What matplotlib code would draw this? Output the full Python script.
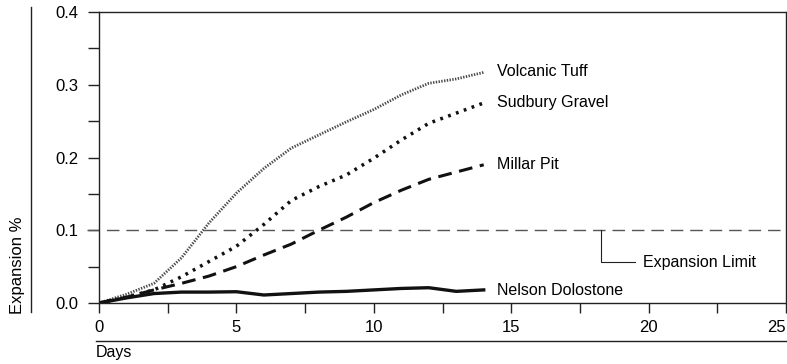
import numpy as np
import matplotlib
matplotlib.use('Agg')
import matplotlib.pyplot as plt
from matplotlib.lines import Line2D

plt.rcParams['font.family'] = ['Liberation Sans', 'DejaVu Sans']
plt.rcParams['font.size'] = 11.5

# data
days = [0, 1, 2, 3, 4, 5, 6, 7, 8, 9, 10, 11, 12, 13, 14]
volcanic_tuff = [0, 0.012, 0.027, 0.062, 0.11, 0.151, 0.185, 0.213, 0.231, 0.249, 0.266, 0.286, 0.302, 0.308, 0.317]
sudbury_gravel = [0, 0.008, 0.018, 0.036, 0.057, 0.078, 0.108, 0.141, 0.16, 0.176, 0.199, 0.224, 0.247, 0.261, 0.275]
millar_pit = [0, 0.008, 0.018, 0.027, 0.037, 0.05, 0.066, 0.081, 0.1, 0.118, 0.138, 0.155, 0.17, 0.18, 0.19]
nelson_dolostone = [0, 0.007, 0.013, 0.015, 0.015, 0.0155, 0.011, 0.013, 0.015, 0.016, 0.018, 0.02, 0.021, 0.016, 0.018]
expansion_limit = 0.1
names = ['Volcanic Tuff', 'Sudbury Gravel', 'Millar Pit', 'Nelson Dolostone']

fig = plt.figure(figsize=(7.87, 3.64), dpi=100)
ax = fig.add_axes([99/787, 1-303/364, 687/787, 291/364])

ax.plot(days, volcanic_tuff, color='#4a4a4a', lw=2.0, linestyle=(0, (0.5, 0.5)))
ax.plot(days, sudbury_gravel, color='#111111', lw=2.5, linestyle=(0, (0.8, 1.6)))
ax.plot(days, millar_pit, color='#111111', lw=2.2, linestyle=(0, (4.5, 2.5)))
ax.plot(days, nelson_dolostone, color='#111111', lw=2.4)
ax.axhline(expansion_limit, xmin=-0.018, xmax=1, color='#555555', lw=1.0,
           linestyle=(0, (9, 5)), clip_on=False)

label_y = [0.318, 0.276, 0.19, 0.0165]
for name, ly in zip(names, label_y):
    ax.text(14.5, ly, name, va='center', ha='left')

# leader to expansion limit
ax.plot([18.25, 18.25, 19.5], [expansion_limit, 0.056, 0.056], color='#222222', lw=0.8)
ax.text(19.8, 0.056, 'Expansion Limit', va='center', ha='left')

ax.set_xlim(0, 25)
ax.set_ylim(0, 0.4)
ax.set_xticks([0, 5, 10, 15, 20, 25])
ax.set_xticks(np.arange(2.5, 25, 5), minor=True)
ax.set_yticks([0.0, 0.1, 0.2, 0.3, 0.4])
ax.set_yticklabels(['0.0', '0.1', '0.2', '0.3', '0.4'])
ax.set_yticks([0.05, 0.15, 0.25, 0.35], minor=True)
ax.tick_params(axis='both', which='both', direction='out', width=1.0, color='#222222', labelsize=12)
ax.tick_params(axis='y', which='both', length=8, pad=7)
ax.tick_params(axis='x', which='both', length=7, pad=5)
ax.get_xticklabels()[-1].set_horizontalalignment('right')
for s in ax.spines.values():
    s.set_linewidth(1.0)
    s.set_color('#222222')

# decorative rules and labels
fig.add_artist(Line2D([31/787, 31/787], [1-7/364, 1-312/364], color='#222222', lw=1.0))
fig.add_artist(Line2D([96/787, 1.0], [1-341/364, 1-341/364], color='#222222', lw=1.0))
fig.text(18/787, 1-314/364, 'Expansion %', rotation=90, ha='center', va='bottom', fontsize=12)
fig.text(96/787, 1-353/364, 'Days', ha='left', va='center', fontsize=11.5)

fig.savefig('out.png', dpi=100)
